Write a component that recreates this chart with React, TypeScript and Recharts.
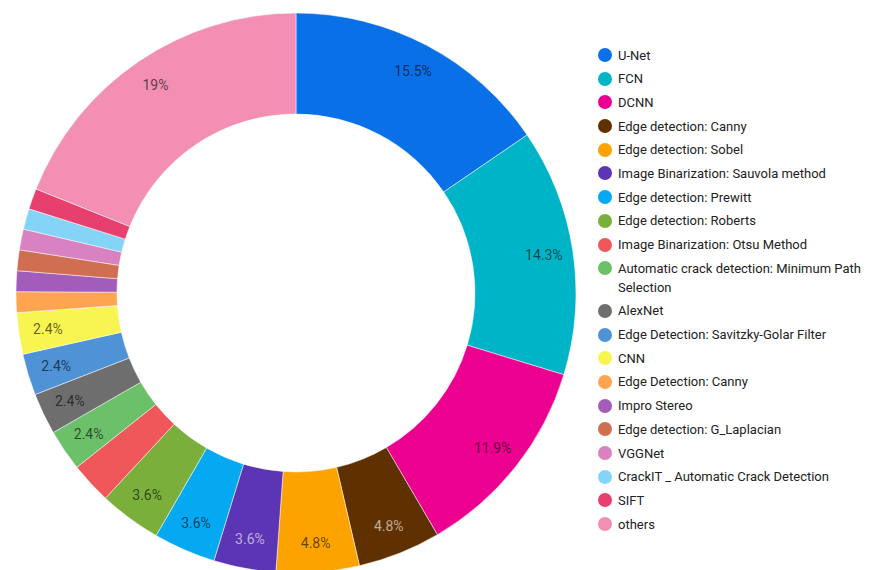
import { Cell, Legend, Pie, PieChart } from "recharts";

const methods = [
	"U-Net",
	"FCN",
	"DCNN",
	"Edge detection: Canny",
	"Edge detection: Sobel",
	"Image Binarization: Sauvola method",
	"Edge detection: Prewitt",
	"Edge detection: Roberts",
	"Image Binarization: Otsu Method",
	"Automatic crack detection: Minimum Path Selection",
	"AlexNet",
	"Edge Detection: Savitzky-Golar Filter",
	"CNN",
	"Edge Detection: Canny",
	"Impro Stereo",
	"Edge detection: G_Laplacian",
	"VGGNet",
	"CrackIT _ Automatic Crack Detection",
	"SIFT",
	"others",
];

const shares = [15.5, 14.3, 11.9, 4.8, 4.8, 3.6, 3.6, 3.6, 2.4, 2.4, 2.4, 2.4, 2.4, 1.2, 1.2, 1.2, 1.2, 1.2, 1.2, 19];

const colors = [
	"#0a70e8",
	"#00b4c8",
	"#ec0090",
	"#5f3000",
	"#fda300",
	"#5c35b4",
	"#04a9f2",
	"#7aaf3c",
	"#f0575a",
	"#6cc06a",
	"#6e6e6e",
	"#4f92d6",
	"#f8f450",
	"#ffa551",
	"#a25cb9",
	"#cf6e50",
	"#d882c2",
	"#84d4f8",
	"#e8406e",
	"#f28fb2",
];

// slices whose label text is light instead of dark
const lightLabels = ["Edge detection: Canny", "Image Binarization: Sauvola method"];
// labels the reference leaves out
const hiddenLabels = ["Image Binarization: Otsu Method"];

const data = methods.map((name, i) => ({ name, value: shares[i] }));

const RADIAN = Math.PI / 180;

function SliceLabel(props: any) {
	const { cx, cy, midAngle, innerRadius, outerRadius, index, value } = props;
	const name = methods[index];
	if (value < 2 || hiddenLabels.includes(name)) return null;
	const r = innerRadius + (outerRadius - innerRadius) * 0.71;
	const x = cx + r * Math.cos(-midAngle * RADIAN);
	const y = cy + r * Math.sin(-midAngle * RADIAN);
	const light = lightLabels.includes(name);
	return (
		<text
			x={x}
			y={y}
			textAnchor="middle"
			dominantBaseline="central"
			fontSize={14}
			fontFamily="Roboto, sans-serif"
			fill={light ? "#ffffff" : "#000000"}
			fillOpacity={light ? 0.6 : 0.62}
		>
			{`${value}%`}
		</text>
	);
}

function MethodLegend() {
	return (
		<div style={{ fontFamily: "Roboto, sans-serif", fontSize: 13, color: "#222" }}>
			{methods.map((name, i) => (
				<div key={name} style={{ display: "flex", alignItems: "flex-start", paddingBottom: 4.7 }}>
					<span
						style={{
							width: 14,
							height: 14,
							marginTop: 2.5,
							borderRadius: "50%",
							background: colors[i],
							flexShrink: 0,
						}}
					/>
					<span style={{ marginLeft: 6, lineHeight: "19px", width: 262 }}>{name}</span>
				</div>
			))}
		</div>
	);
}

export default function App() {
	return (
		<div style={{ position: "absolute", left: 0, top: 0, background: "#fff" }}>
			<PieChart width={887} height={570}>
				<Pie
					data={data}
					dataKey="value"
					nameKey="name"
					cx={291}
					cy={288}
					innerRadius={179}
					outerRadius={280}
					startAngle={90}
					endAngle={-270}
					stroke="#ffffff"
					strokeWidth={0.5}
					label={SliceLabel}
					labelLine={false}
					isAnimationActive={false}
				>
					{data.map((d, i) => (
						<Cell key={d.name} fill={colors[i]} />
					))}
				</Pie>
				<Legend
					layout="vertical"
					content={() => <MethodLegend />}
					wrapperStyle={{ position: "absolute", left: 598, top: 45.5, width: 290 }}
				/>
			</PieChart>
		</div>
	);
}
